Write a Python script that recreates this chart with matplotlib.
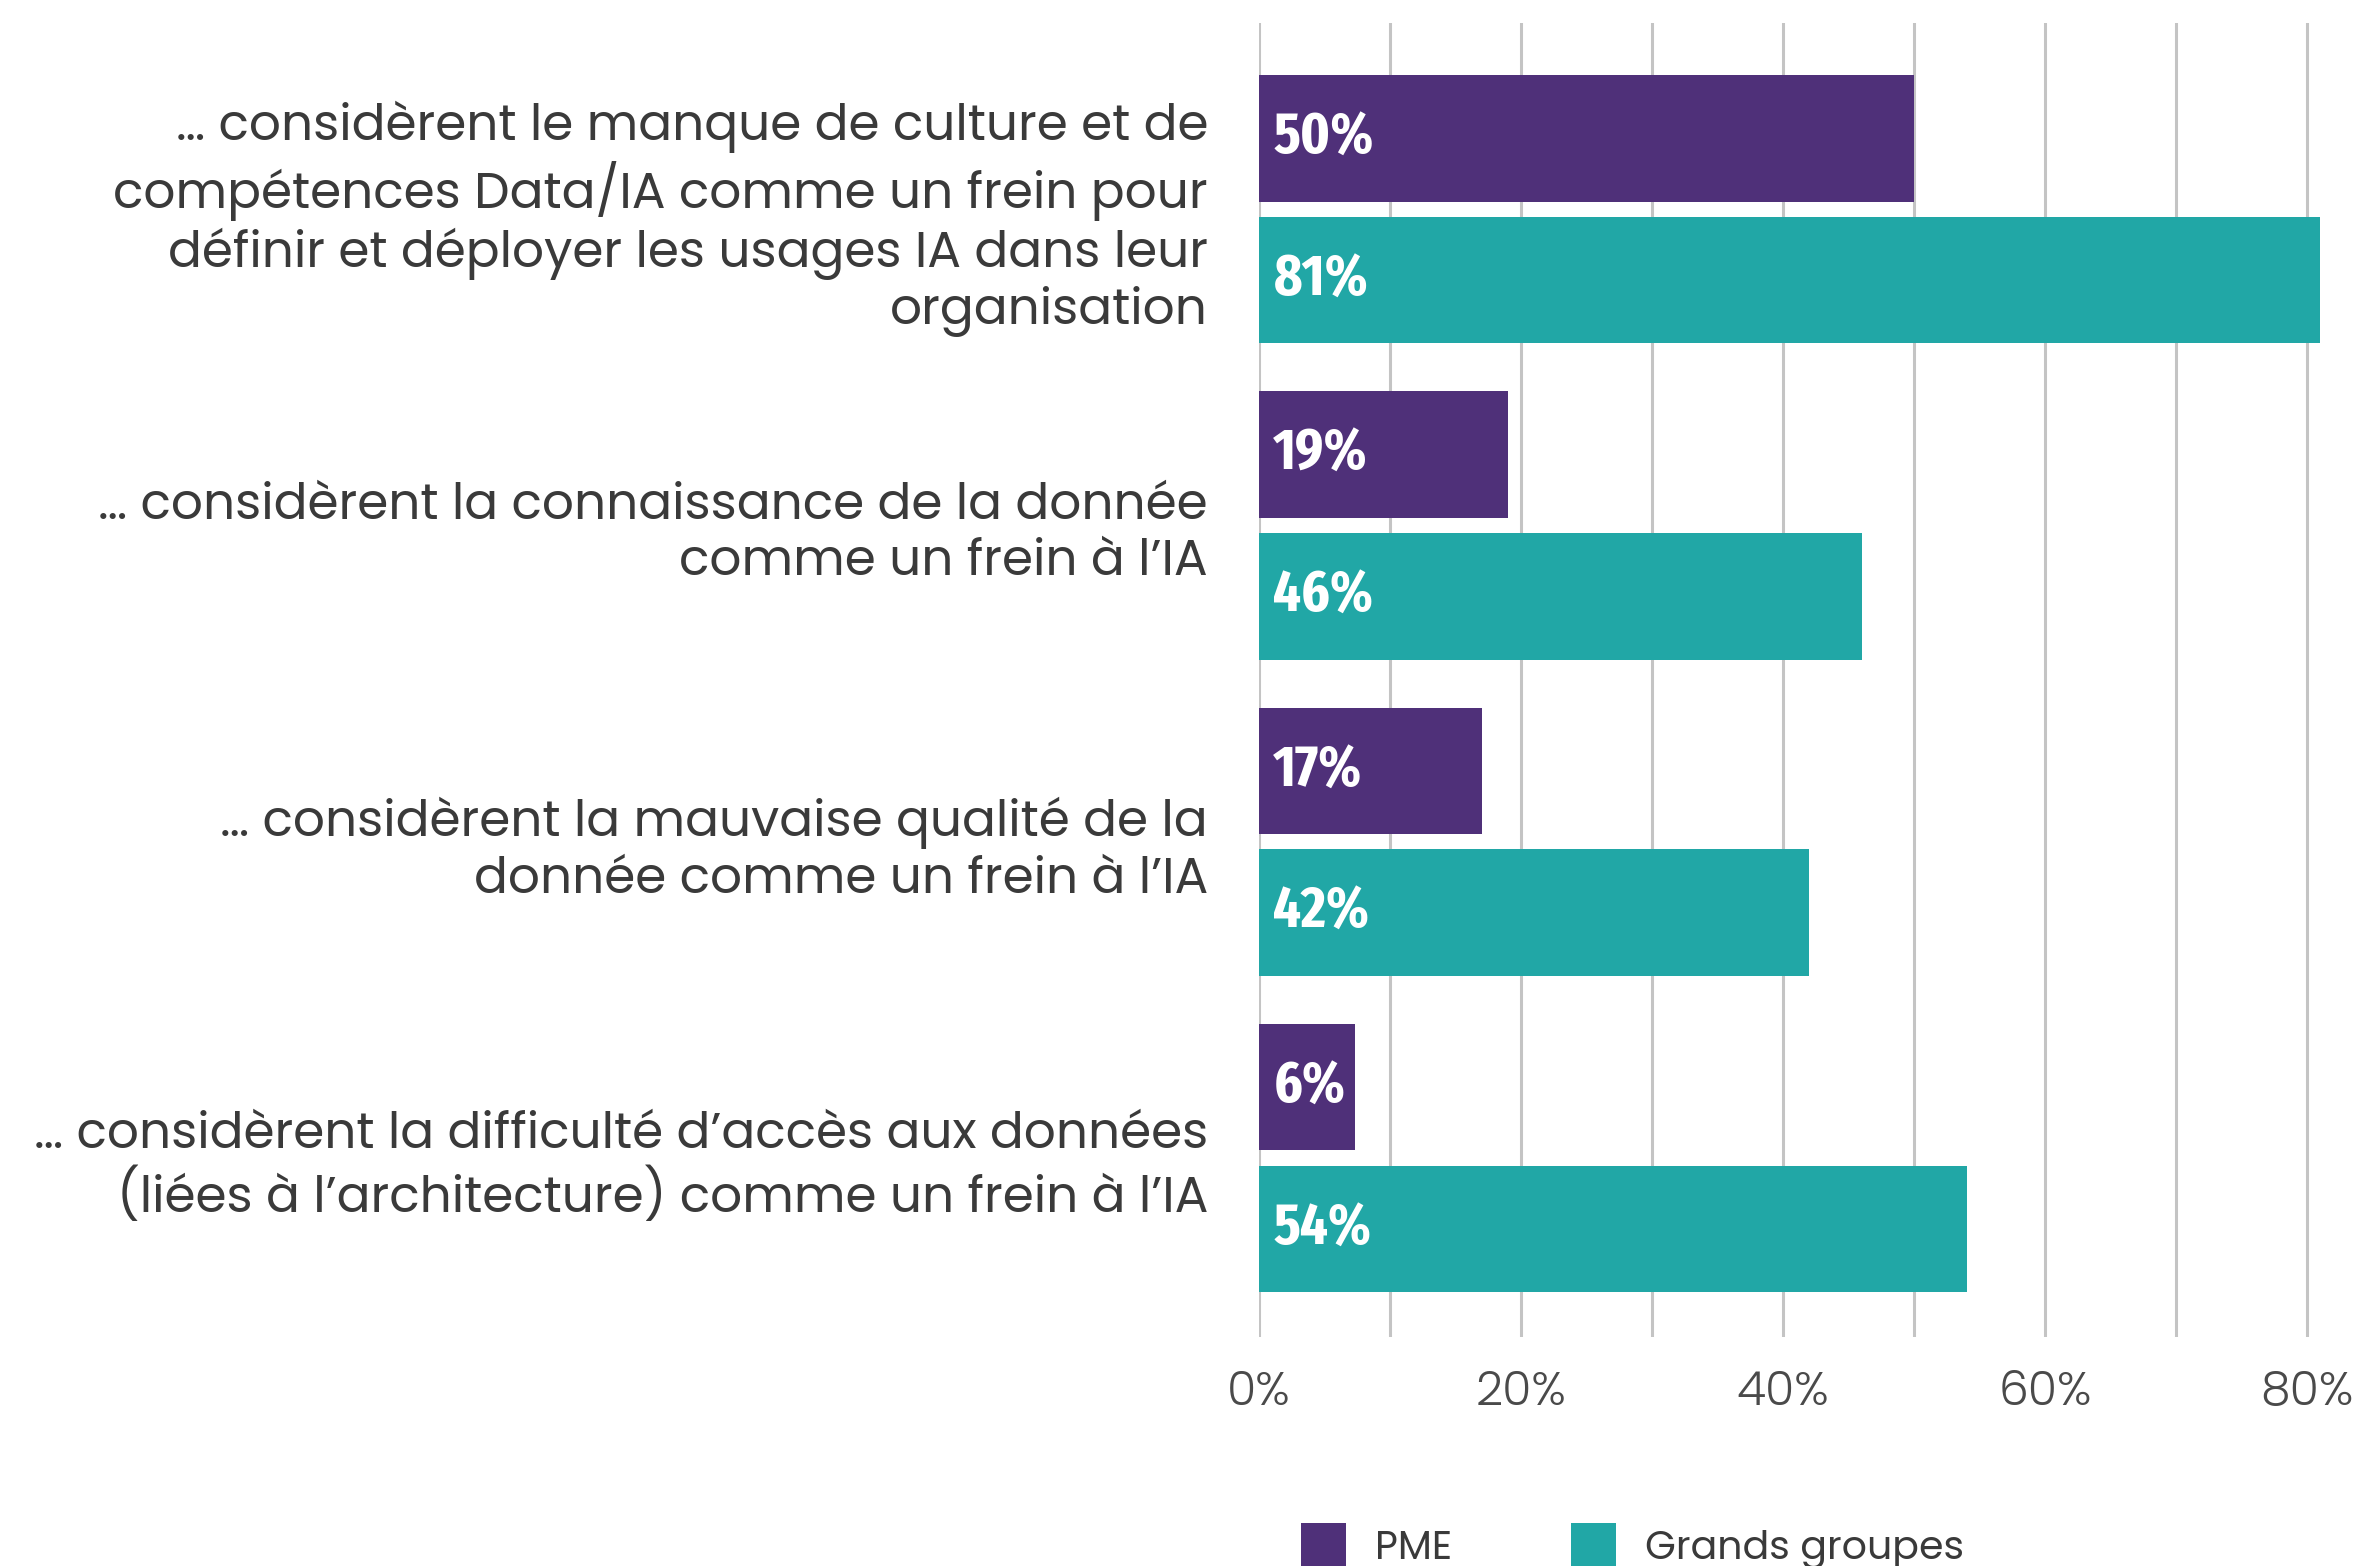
import matplotlib
matplotlib.use("Agg")
import matplotlib.pyplot as plt
from matplotlib.patches import Patch
from matplotlib import font_manager
import numpy as np

categories = [
    "… considèrent le manque de culture et de\ncompétences Data/IA comme un frein pour\ndéfinir et déployer les usages IA dans leur\norganisation",
    "… considèrent la connaissance de la donnée\ncomme un frein à l’IA",
    "… considèrent la mauvaise qualité de la\ndonnée comme un frein à l’IA",
    "… considèrent la difficulté d’accès aux données\n(liées à l’architecture) comme un frein à l’IA",
]
pme_values = [50, 19, 17, 7.3]
pme_labels = ["50%", "19%", "17%", "6%"]
gg_values = [81, 46, 42, 54]
gg_labels = ["81%", "46%", "42%", "54%"]
series_names = ["PME", "Grands groupes"]
xticks = [0, 20, 40, 60, 80]
xtick_labels = ["0%", "20%", "40%", "60%", "80%"]

PURPLE = "#4F3079"
TEAL = "#21A7A6"
TEXT = "#3a3a3a"
GRID = "#c4c4c4"

names = {f.name for f in font_manager.fontManager.ttflist}
def pick(cands):
    for c in cands:
        if c in names:
            return c
    return "DejaVu Sans"
text_font = pick(["Poppins", "Lato", "DejaVu Sans"])
num_font = pick(["Fira Sans Extra Condensed", "Fira Sans Condensed", "Oswald", "DejaVu Sans"])
text_fam = [text_font, "DejaVu Sans"]
num_fam = [num_font, "DejaVu Sans"]
num_weight = "bold"

W, H = 2362, 1566
fig = plt.figure(figsize=(W / 100, H / 100), dpi=100)
renderer = fig.canvas.get_renderer()

def fit(s, family, weight, target_px, base=30.0):
    t = fig.text(0, 0, s, fontsize=base, family=family, fontweight=weight)
    w = t.get_window_extent(renderer=renderer).width
    t.remove()
    return base * target_px / w

cat_size = fit("… considèrent la difficulté d’accès aux données", text_fam, 400, 1175)
tick_size = fit("80%", text_fam, 300, 93)
leg_size = fit("Grands groupes", text_fam, 400, 319)
num_size = min(fit("6%", num_fam, num_weight, 72), fit("50%", num_fam, num_weight, 120))

left = 1259 / W
bottom = 1 - 1337 / H
top = 1 - 23 / H
ax = fig.add_axes([left, bottom, 0.999 - left, top - bottom])

y = np.arange(len(categories))
bh = 0.40
off = 0.224
ax.barh(y - off, pme_values, height=bh, color=PURPLE, zorder=3)
ax.barh(y + off, gg_values, height=bh, color=TEAL, zorder=3)

for yi, lab in zip(y - off, pme_labels):
    ax.text(1.1, yi, lab, color="white", fontsize=num_size, fontweight=num_weight,
            family=num_fam, va="center", ha="left", zorder=4)
for yi, lab in zip(y + off, gg_labels):
    ax.text(1.1, yi, lab, color="white", fontsize=num_size, fontweight=num_weight,
            family=num_fam, va="center", ha="left", zorder=4)

ax.set_xlim(0, 84)
ax.set_ylim(3 + 0.566, -0.589)
for gx in range(0, 90, 10):
    ax.axvline(gx, color=GRID, lw=2.2, zorder=1)

ax.set_xticks(xticks)
ax.set_xticklabels(xtick_labels, fontsize=tick_size, color="#4a4a4a",
                   family=text_fam, fontweight=300)
ax.tick_params(axis="x", length=0, pad=24)
ax.set_yticks(y)
ax.set_yticklabels(categories, fontsize=cat_size, color=TEXT, linespacing=1.17,
                   ha="right", family=text_fam, fontweight=400)
ax.tick_params(axis="y", length=0, pad=36.7)
for s in ax.spines.values():
    s.set_visible(False)

handles = [Patch(facecolor=PURPLE), Patch(facecolor=TEAL)]
fig.legend(handles, series_names, loc="upper left",
           bbox_to_anchor=(1301 / W, 1 - 1523 / H), ncol=2, frameon=False,
           prop={"family": text_fam, "size": leg_size, "weight": 400},
           handlelength=1.15, handleheight=1.4, handletextpad=0.72,
           columnspacing=3.0, borderpad=0, borderaxespad=0,
           labelcolor=TEXT)

fig.savefig("out.png", dpi=100)
